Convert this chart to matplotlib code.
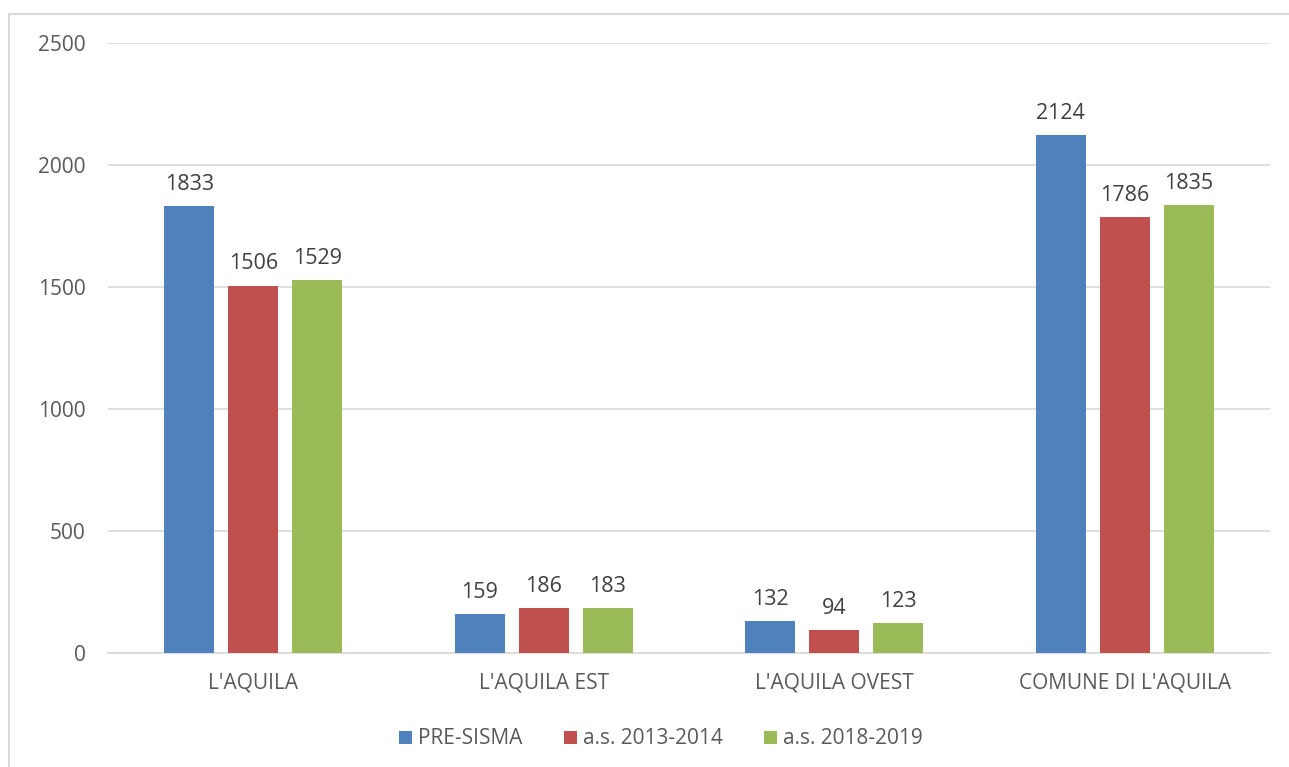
import numpy as np
import matplotlib.pyplot as plt
from matplotlib.lines import Line2D

categories = ["L'AQUILA", "L'AQUILA EST", "L'AQUILA OVEST", "COMUNE DI L'AQUILA"]
series_names = ["PRE-SISMA", "a.s. 2013-2014", "a.s. 2018-2019"]
pre_sisma = [1833, 159, 132, 2124]
as_2013_2014 = [1506, 186, 94, 1786]
as_2018_2019 = [1529, 183, 123, 1835]
colors = ["#4F81BD", "#C0504D", "#9BBB59"]

plt.rcParams['font.family'] = ['Open Sans', 'DejaVu Sans']
text_color = '#595959'

fig = plt.figure(figsize=(12.89, 7.67), dpi=100)
ax = fig.add_axes([108/1289, 1 - 653/767, (1270-108)/1289, (653-43)/767])

x = np.arange(len(categories))
width = 0.172
offset = 0.22
for i, (vals, name) in enumerate(zip([pre_sisma, as_2013_2014, as_2018_2019], series_names)):
    bars = ax.bar(x + (i - 1)*offset, vals, width, color=colors[i], label=name, zorder=3)
    for b, v in zip(bars, vals):
        ax.annotate(str(v), (b.get_x() + b.get_width()/2, v), xytext=(0, 8),
                    textcoords='offset points', ha='center', va='bottom',
                    fontsize=15.5, color='#404040')

ax.set_xlim(-0.5, 3.5)
ax.set_ylim(0, 2500)
ax.set_yticks(range(0, 2501, 500))
ax.set_xticks(x)
ax.set_xticklabels(categories)
ax.yaxis.grid(True, color='#D9D9D9', linewidth=1.2, zorder=0)
for s in ['top', 'right', 'left']:
    ax.spines[s].set_visible(False)
ax.spines['bottom'].set_color('#D9D9D9')
ax.spines['bottom'].set_linewidth(1.2)
ax.tick_params(axis='both', length=0, labelsize=15, colors=text_color)
ax.tick_params(axis='y', pad=16)
ax.tick_params(axis='x', pad=14)

ax.legend(loc='upper center', bbox_to_anchor=(0.476, -0.093), ncol=3, frameon=False,
          fontsize=15, labelcolor=text_color, handlelength=0.6, handleheight=0.6,
          handletextpad=0.3, columnspacing=2.0)

# outer chart border (only left and top visible in the crop)
fig.add_artist(Line2D([9/1289, 9/1289], [0, 1 - 13.5/767], color='#D9D9D9', lw=1.5))
fig.add_artist(Line2D([9/1289, 1], [1 - 13.5/767, 1 - 13.5/767], color='#D9D9D9', lw=1.5))

fig.savefig('out.png', dpi=100)
